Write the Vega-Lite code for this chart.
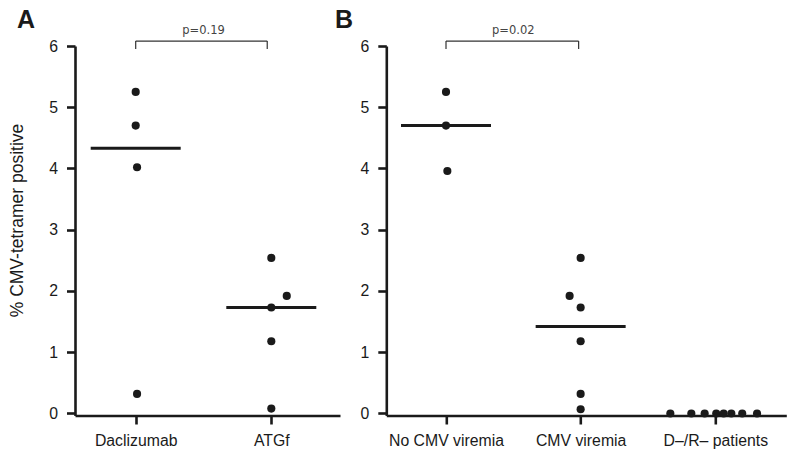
{
  "$schema": "https://vega.github.io/schema/vega-lite/v6.json",
  "padding": {"left": 8, "top": 8, "right": 0, "bottom": 0},
  "background": "white",
  "bounds": "flush",
  "spacing": 46.3,
  "config": {
    "view": {"stroke": null},
    "font": "Liberation Sans",
    "axis": {
      "grid": false,
      "domainColor": "#1a1a1a",
      "domainWidth": 2.6,
      "tickColor": "#1a1a1a",
      "tickWidth": 2.6,
      "tickSize": 8.5,
      "labelFont": "Liberation Sans",
      "labelFontSize": 15.8,
      "labelColor": "#1a1a1a",
      "labelPadding": 9,
      "titleFont": "Liberation Sans",
      "titleFontWeight": "normal",
      "titleColor": "#1a1a1a"
    }
  },
  "datasets": {
    "pointsA": [
      {"group": "Daclizumab", "x": 1.0, "value": 5.25},
      {"group": "Daclizumab", "x": 1.0, "value": 4.70},
      {"group": "Daclizumab", "x": 1.01, "value": 4.02},
      {"group": "Daclizumab", "x": 1.01, "value": 0.32},
      {"group": "ATGf", "x": 2.0, "value": 2.54},
      {"group": "ATGf", "x": 2.114, "value": 1.92},
      {"group": "ATGf", "x": 2.0, "value": 1.73},
      {"group": "ATGf", "x": 2.0, "value": 1.18},
      {"group": "ATGf", "x": 2.0, "value": 0.08}
    ],
    "mediansA": [
      {"group": "Daclizumab", "x": 1.0, "median": 4.33},
      {"group": "ATGf", "x": 2.0, "median": 1.73}
    ],
    "compA": [{"from": 1.0, "to": 1.97, "mid": 1.5, "p": "p=0.19"}],
    "pointsB": [
      {"group": "No CMV viremia", "x": 1.0, "value": 5.25},
      {"group": "No CMV viremia", "x": 1.0, "value": 4.70},
      {"group": "No CMV viremia", "x": 1.01, "value": 3.96},
      {"group": "CMV viremia", "x": 2.0, "value": 2.54},
      {"group": "CMV viremia", "x": 1.918, "value": 1.92},
      {"group": "CMV viremia", "x": 2.0, "value": 1.73},
      {"group": "CMV viremia", "x": 2.0, "value": 1.18},
      {"group": "CMV viremia", "x": 2.0, "value": 0.32},
      {"group": "CMV viremia", "x": 2.0, "value": 0.07},
      {"group": "D-/R- patients", "x": 2.666, "value": 0},
      {"group": "D-/R- patients", "x": 2.822, "value": 0},
      {"group": "D-/R- patients", "x": 2.921, "value": 0},
      {"group": "D-/R- patients", "x": 3.007, "value": 0},
      {"group": "D-/R- patients", "x": 3.062, "value": 0},
      {"group": "D-/R- patients", "x": 3.119, "value": 0},
      {"group": "D-/R- patients", "x": 3.2, "value": 0},
      {"group": "D-/R- patients", "x": 3.31, "value": 0}
    ],
    "mediansB": [
      {"group": "No CMV viremia", "x": 1.0, "median": 4.70},
      {"group": "CMV viremia", "x": 2.0, "median": 1.42}
    ],
    "compB": [{"from": 1.0, "to": 1.985, "mid": 1.5, "p": "p=0.02"}]
  },
  "hconcat": [
    {
      "width": 265,
      "height": 369.5,
      "layer": [
        {
          "data": {"name": "pointsA"},
          "mark": {"type": "circle", "size": 66, "color": "#1a1a1a", "opacity": 1},
          "encoding": {
            "x": {
              "field": "x", "type": "quantitative",
              "scale": {"domain": [0.5524, 2.5066], "nice": false, "zero": false},
              "axis": {"values": [1, 2], "title": null, "labelExpr": "datum.value == 1 ? 'Daclizumab' : 'ATGf'"}
            },
            "y": {
              "field": "value", "type": "quantitative",
              "scale": {"domain": [-0.033, 6], "nice": false, "zero": false},
              "axis": {"values": [0, 1, 2, 3, 4, 5, 6], "format": "d", "title": "% CMV-tetramer positive", "titleFontSize": 17.5, "titlePadding": 22, "titleY": 174}
            }
          }
        },
        {
          "data": {"name": "mediansA"},
          "mark": {"type": "tick", "orient": "horizontal", "size": 90, "thickness": 3, "color": "#1a1a1a", "opacity": 1},
          "encoding": {
            "x": {"field": "x", "type": "quantitative"},
            "y": {"field": "median", "type": "quantitative"}
          }
        },
        {
          "data": {"name": "compA"},
          "mark": {"type": "rule", "color": "#333", "strokeWidth": 1.2},
          "encoding": {
            "x": {"field": "from", "type": "quantitative"},
            "x2": {"field": "to"},
            "y": {"datum": 6.08}
          }
        },
        {
          "data": {"name": "compA"},
          "mark": {"type": "rule", "color": "#333", "strokeWidth": 1.2},
          "encoding": {
            "x": {"field": "from", "type": "quantitative"},
            "y": {"datum": 6.08},
            "y2": {"datum": 5.95}
          }
        },
        {
          "data": {"name": "compA"},
          "mark": {"type": "rule", "color": "#333", "strokeWidth": 1.2},
          "encoding": {
            "x": {"field": "to", "type": "quantitative"},
            "y": {"datum": 6.08},
            "y2": {"datum": 5.95}
          }
        },
        {
          "data": {"name": "compA"},
          "mark": {"type": "text", "font": "DejaVu Sans", "fontSize": 11.5, "color": "#444", "align": "center", "baseline": "alphabetic"},
          "encoding": {
            "x": {"field": "mid", "type": "quantitative"},
            "y": {"datum": 6.204},
            "text": {"field": "p"}
          }
        },
        {
          "data": {"values": [{"panel": "A"}]},
          "mark": {"type": "text", "font": "Liberation Sans", "fontSize": 25, "fontWeight": "bold", "color": "#1a1a1a", "align": "center", "baseline": "alphabetic"},
          "encoding": {
            "x": {"datum": 0.191},
            "y": {"datum": 6.286},
            "text": {"field": "panel"}
          }
        }
      ]
    },
    {
      "width": 400,
      "height": 369.5,
      "layer": [
        {
          "data": {"name": "pointsB"},
          "mark": {"type": "circle", "size": 66, "color": "#1a1a1a", "opacity": 1},
          "encoding": {
            "x": {
              "field": "x", "type": "quantitative",
              "scale": {"domain": [0.5566, 3.5273], "nice": false, "zero": false},
              "axis": {"values": [1, 2, 3], "title": null, "labelExpr": "datum.value == 1 ? 'No CMV viremia' : datum.value == 2 ? 'CMV viremia' : 'D–/R– patients'"}
            },
            "y": {
              "field": "value", "type": "quantitative",
              "scale": {"domain": [-0.033, 6], "nice": false, "zero": false},
              "axis": {"values": [0, 1, 2, 3, 4, 5, 6], "format": "d", "title": null}
            }
          }
        },
        {
          "data": {"name": "mediansB"},
          "mark": {"type": "tick", "orient": "horizontal", "size": 90, "thickness": 3, "color": "#1a1a1a", "opacity": 1},
          "encoding": {
            "x": {"field": "x", "type": "quantitative"},
            "y": {"field": "median", "type": "quantitative"}
          }
        },
        {
          "data": {"name": "compB"},
          "mark": {"type": "rule", "color": "#333", "strokeWidth": 1.2},
          "encoding": {
            "x": {"field": "from", "type": "quantitative"},
            "x2": {"field": "to"},
            "y": {"datum": 6.08}
          }
        },
        {
          "data": {"name": "compB"},
          "mark": {"type": "rule", "color": "#333", "strokeWidth": 1.2},
          "encoding": {
            "x": {"field": "from", "type": "quantitative"},
            "y": {"datum": 6.08},
            "y2": {"datum": 5.95}
          }
        },
        {
          "data": {"name": "compB"},
          "mark": {"type": "rule", "color": "#333", "strokeWidth": 1.2},
          "encoding": {
            "x": {"field": "to", "type": "quantitative"},
            "y": {"datum": 6.08},
            "y2": {"datum": 5.95}
          }
        },
        {
          "data": {"name": "compB"},
          "mark": {"type": "text", "font": "DejaVu Sans", "fontSize": 11.5, "color": "#444", "align": "center", "baseline": "alphabetic"},
          "encoding": {
            "x": {"field": "mid", "type": "quantitative"},
            "y": {"datum": 6.204},
            "text": {"field": "p"}
          }
        },
        {
          "data": {"values": [{"panel": "B"}]},
          "mark": {"type": "text", "font": "Liberation Sans", "fontSize": 25, "fontWeight": "bold", "color": "#1a1a1a", "align": "center", "baseline": "alphabetic"},
          "encoding": {
            "x": {"datum": 0.2425},
            "y": {"datum": 6.286},
            "text": {"field": "panel"}
          }
        }
      ]
    }
  ]
}
